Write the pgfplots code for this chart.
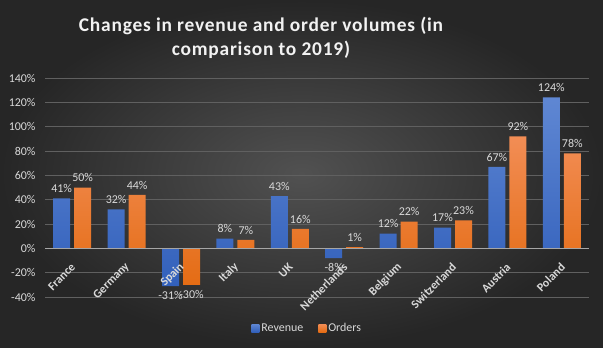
\documentclass[border=0pt]{standalone}
\usepackage{fontspec}
\setmainfont{Carlito}
\usepackage{pgfplots}
\pgfplotsset{compat=1.18}
\definecolor{bgin}{HTML}{515151}
\definecolor{bgout}{HTML}{262626}
\definecolor{txt}{HTML}{D9D9D9}
\definecolor{gridc}{HTML}{606060}
\definecolor{zeroc}{HTML}{A6A6A6}
\definecolor{blueT}{HTML}{5F87D3}
\definecolor{blueB}{HTML}{3260BB}
\definecolor{orT}{HTML}{F28D55}
\definecolor{orB}{HTML}{E46C14}
\begin{document}
\begin{tikzpicture}[x=1bp,y=1bp]
\shade[inner color=bgin, outer color=bgout] (-45,-50) rectangle (558,297);
\node[align=center, font=\bfseries\fontsize{19.5}{24}\selectfont\addfontfeature{LetterSpace=4}, text=white!95!black] at (216,259) {Changes in revenue and order volumes (in\\comparison to 2019)};
\begin{axis}[at={(0,0)}, anchor=south west, scale only axis,
  width=544bp, height=219bp,
  xmin=-0.5, xmax=9.5, ymin=-40, ymax=140,
  ybar=4bp, bar width=17bp,
  axis x line*=middle, axis y line*=left,
  x axis line style={draw=none},
  y axis line style={draw=none},
  major tick length=0pt,
  ytick={-40,-20,...,140},
  ymajorgrids, grid style={draw=gridc, line width=0.75bp},
  xtick={0,...,9},
  xticklabels={},
  yticklabel style={font=\fontsize{12}{14}\selectfont, text=txt, xshift=-6bp},
  yticklabel={\pgfmathprintnumber{\tick}\%},
  /pgf/number format/assume math mode=true,
  nodes near coords={\pgfmathprintnumber{\pgfplotspointmeta}\%},
  nodes near coords align=vertical,
  every node near coord/.append style={font=\fontsize{12}{14}\selectfont, text=txt, inner sep=5.5bp},
  legend style={at={(0.482,-0.1416)}, anchor=center, legend columns=-1, draw=none, fill=none,
    text=txt, font=\fontsize{12}{14}\selectfont,
    /tikz/every even column/.append style={column sep=13bp}},
  legend image code/.code={\fill[#1] (0bp,-4bp) rectangle (8bp,4bp);},
]
\addplot[draw=none, top color=blueT, bottom color=blueB] coordinates {
(0,41) (1,32) (2,-31) (3,8) (4,43) (5,-8) (6,12) (7,17) (8,67) (9,124)};
\addplot[draw=none, top color=orT, bottom color=orB] coordinates {
(0,50) (1,44) (2,-30) (3,7) (4,16) (5,1) (6,22) (7,23) (8,92) (9,78)};
\legend{Revenue,Orders}
\end{axis}
\begin{axis}[at={(0,48.667bp)}, anchor=south west, scale only axis,
  width=544bp, height=170.333bp,
  xmin=-0.5, xmax=9.5, ymin=0, ymax=140,
  axis x line*=bottom, axis y line=none,
  x axis line style={draw=zeroc, line width=0.8bp, -},
  major tick length=0pt,
  xtick={0,...,9},
  xticklabels={France,Germany,Spain,Italy,UK,Netherlands,Belgium,Switzerland,Austria,Poland},
  xticklabel style={rotate=45, anchor=east, font=\bfseries\fontsize{12}{14}\selectfont, text=txt, xshift=5bp},
  xticklabel shift=18bp,
  ytick=\empty,
]
\end{axis}
\end{tikzpicture}
\end{document}
